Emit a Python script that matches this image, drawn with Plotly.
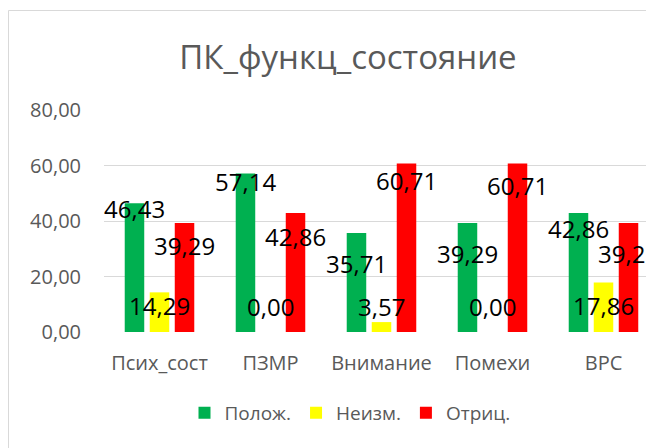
import plotly.graph_objects as go

# ---- data ----
categories = ["Псих_сост", "ПЗМР", "Внимание", "Помехи", "ВРС"]
series_names = ["Полож.", "Неизм.", "Отриц."]
polozh = [46.43, 57.14, 35.71, 39.29, 42.86]
neizm = [14.29, 0.00, 3.57, 0.00, 17.86]
otric = [39.29, 42.86, 60.71, 60.71, 39.29]
title_text = "ПК_функц_состояние"
y_ticks = [0, 20, 40, 60, 80]

# ---- style ----
colors = ["#00B050", "#FFFF00", "#FF0000"]
FONT = "Open Sans"
GRAY = "#595959"
OFF = 8  # page body margin
W, H = 654 - OFF, 448 - OFF
ML = 104 - OFF
MT = 110 - OFF
MB = H - (332 - OFF)
MR = 0
# label vertical offsets (px below bar top) to mimic the original placement
label_offsets = [
    [4, 7, 30, 30, 14],
    [12, -27, -17, -27, 22],
    [22, 22, 16, 21, 30],
]
bar_shift = [-25, 0, 25]

values = [polozh, neizm, otric]

fig = go.Figure()
for name, vals, col in zip(series_names, values, colors):
    fig.add_trace(go.Bar(x=categories, y=vals, name=name, marker_color=col,
                         marker_line_width=0, hoverinfo="skip"))

for s, vals in enumerate(values):
    for i, (cat, v) in enumerate(zip(categories, vals)):
        fig.add_annotation(x=cat, y=v, xref="x", yref="y",
                           text=f"{v:.2f}".replace(".", ","),
                           showarrow=False, xshift=bar_shift[s],
                           yshift=-label_offsets[s][i] - 1,
                           yanchor="middle", xanchor="center",
                           font=dict(family=FONT, size=24, color="black"))

pw = W - ML - MR
ph = H - MT - MB
def px_x(p):
    return (p - OFF - ML) / pw
def px_y(p):
    return (H - MB - (p - OFF)) / ph

fig.add_shape(type="rect", xref="paper", yref="paper",
              x0=px_x(8.5), x1=px_x(700), y0=px_y(470), y1=px_y(10.5),
              line=dict(color="#d9d9d9", width=1), fillcolor="rgba(0,0,0,0)",
              layer="below")

fig.update_layout(
    width=W, height=H,
    margin=dict(l=ML, r=MR, t=MT, b=MB, pad=0, autoexpand=False),
    paper_bgcolor="white", plot_bgcolor="white",
    separators=", ",
    barmode="group", bargap=0.324, bargroupgap=0.22,
    title=dict(text=title_text, x=(348 - OFF) / W, xanchor="center",
               y=1 - (57 - OFF) / H, yanchor="middle", yref="container",
               font=dict(family=FONT, size=33, color=GRAY)),
    font=dict(family=FONT, color=GRAY),
    showlegend=True,
    legend=dict(orientation="h", x=px_x(350), xanchor="center",
                y=px_y(413), yanchor="middle",
                font=dict(family=FONT, size=19, color=GRAY),
                itemwidth=30, bgcolor="rgba(0,0,0,0)"),
    xaxis=dict(range=[-0.5, 4.455], showgrid=False, zeroline=False,
               showline=False, ticks="", ticklabelstandoff=17,
               tickfont=dict(family=FONT, size=20, color=GRAY)),
    yaxis=dict(range=[0, 80], tickvals=y_ticks, tickformat=".2f",
               showgrid=True, gridcolor="#d9d9d9", gridwidth=1,
               zeroline=False, showline=False, ticks="",
               ticklabelstandoff=22,
               tickfont=dict(family=FONT, size=20, color=GRAY)),
)

fig.write_html("out.html")
